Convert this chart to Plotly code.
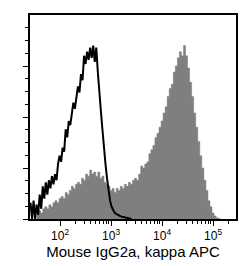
import numpy as np
import plotly.graph_objects as go

# log10 fluorescence bin starts and counts (% of max scale)
iso_start, iso_step = 1.42, 0.03
iso_vals = [8, 0, 9, 0, 7, 2, 12, 5, 16, 10, 18, 12, 19, 15, 21, 17, 22, 19, 27, 31,
            28, 35, 33, 44, 40, 48, 46, 53, 57, 54, 61, 65, 62, 71, 68, 80, 76, 82, 78, 84,
            79, 85, 77, 84, 72, 64, 53, 44, 34, 27, 20, 14, 9, 6, 4, 3, 2.5, 2, 1.6, 1.3,
            1.1, 0.9, 0.8, 0.6, 0.5, 0.3, 0]

pos_start, pos_step = 1.54, 0.04
pos_vals = [2, 4, 3, 5, 6, 5, 7, 6, 8, 9, 8, 10, 11, 10, 13, 12, 14, 16, 15, 17,
            18, 17, 20, 19, 22, 21, 24, 22, 23, 21, 23, 20, 21, 18, 17, 16, 14, 15, 13, 15,
            14, 16, 15, 17, 16, 18, 17, 19, 20, 19, 22, 26, 25, 27, 28, 32, 34, 36, 40, 42,
            45, 48, 52, 55, 60, 64, 66, 72, 75, 79, 82, 80, 85, 80, 74, 67, 60, 52, 45, 38,
            31, 25, 19, 14, 9, 6, 3, 1.5, 0.6, 0.2, 0]

tick_vals = [2, 3, 4, 5]
tick_text = ["10<sup>2</sup>", "10<sup>3</sup>", "10<sup>4</sup>", "10<sup>5</sup>"]
x_title = "Mouse IgG2a, kappa APC"

iso_x = [iso_start + i * iso_step for i in range(len(iso_vals))]
pos_x = [pos_start + i * pos_step for i in range(len(pos_vals))]

fig = go.Figure()
fig.add_trace(go.Scatter(x=pos_x, y=pos_vals, mode="lines", line=dict(color="#7f7f7f", width=0.5, shape="hv"),
                         fill="tozeroy", fillcolor="#7f7f7f"))
fig.add_trace(go.Scatter(x=iso_x, y=iso_vals, mode="lines", line=dict(color="black", width=2)))

minor_x = [d + np.log10(m) for d in (2, 3, 4, 5) for m in range(2, 10) if d + np.log10(m) < 5.45]

fig.update_layout(
    width=250, height=266, margin=dict(l=30, r=14, t=15, b=47),
    plot_bgcolor="white", paper_bgcolor="white", showlegend=False,
    font=dict(family="Liberation Sans, Arial", color="black"),
    xaxis=dict(range=[1.41, 5.45], tickmode="array", tickvals=tick_vals, ticktext=tick_text,
               ticks="outside", ticklen=5, tickwidth=1, tickcolor="black",
               showline=True, linecolor="black", linewidth=1.5, mirror=True, showgrid=False, zeroline=False,
               tickfont=dict(size=12),
               minor=dict(tickmode="array", tickvals=minor_x, ticks="outside", ticklen=3, tickcolor="black"),
               title=dict(text=x_title, font=dict(size=15), standoff=0)),
    yaxis=dict(range=[0, 100], tickmode="array", tickvals=[0, 25, 50, 75], showticklabels=False,
               ticks="outside", ticklen=5, tickcolor="black",
               minor=dict(tickmode="array", tickvals=[6.25 * i for i in range(16)], ticks="outside", ticklen=3, tickcolor="black"),
               showline=True, linecolor="black", linewidth=1.5, mirror=True, showgrid=False, zeroline=False),
)
fig.write_html("out.html")
